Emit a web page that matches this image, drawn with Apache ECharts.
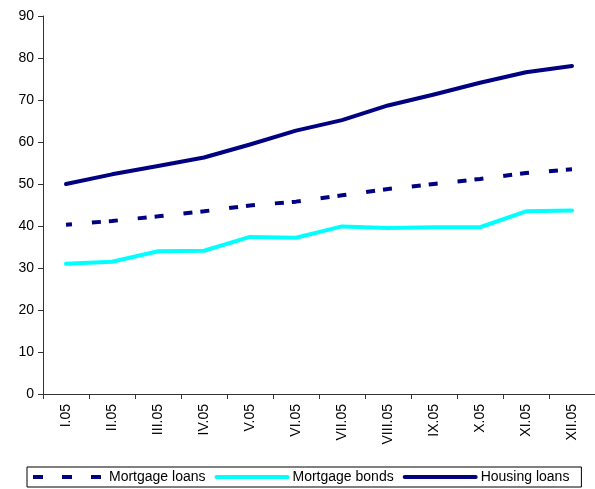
<!DOCTYPE html>
<html>
<head>
<meta charset="utf-8">
<script src="https://cdn.jsdelivr.net/npm/echarts@6/dist/echarts.min.js"></script>
<style>html,body{margin:0;padding:0;background:#fff;}#c{width:595px;height:489px;}</style>
</head>
<body>
<div id="c"></div>
<script>
var categories = ['I.05','II.05','III.05','IV.05','V.05','VI.05','VII.05','VIII.05','IX.05','X.05','XI.05','XII.05'];
var mortgageLoans = [40.3, 41.2, 42.3, 43.5, 44.9, 45.8, 47.3, 48.8, 50.0, 51.2, 52.6, 53.5];
var mortgageBonds = [31.0, 31.5, 34.0, 34.1, 37.4, 37.2, 39.9, 39.5, 39.7, 39.7, 43.5, 43.7];
var housingLoans = [50.0, 52.3, 54.3, 56.3, 59.4, 62.7, 65.2, 68.7, 71.3, 74.1, 76.6, 78.1];
var yTicks = {min: 0, max: 90, interval: 10};

var chart = echarts.init(document.getElementById('c'), null, {renderer: 'canvas'});
var font = 'Liberation Sans, Arial, sans-serif';
var noSym = {color: 'rgba(0,0,0,0)', borderWidth: 0, opacity: 0};
chart.setOption({
  animation: false,
  backgroundColor: '#fff',
  grid: {left: 43, right: 0, top: 16, bottom: 95, containLabel: false},
  legend: {
    left: 27, top: 467,
    itemWidth: 71, itemHeight: 14, itemGap: 9,
    padding: [3, 12, 3, 4],
    borderColor: '#000', borderWidth: 1,
    textStyle: {fontFamily: font, fontSize: 14, color: '#000'},
    itemStyle: noSym,
    lineStyle: {width: 4},
    data: [
      {name: 'Mortgage loans', itemStyle: noSym, lineStyle: {width: 4, type: [10, 19], dashOffset: 0, cap: 'butt'}},
      {name: 'Mortgage bonds', itemStyle: noSym, lineStyle: {width: 4, cap: 'round'}},
      {name: 'Housing loans', itemStyle: noSym, lineStyle: {width: 4, cap: 'round'}}
    ]
  },
  xAxis: {
    type: 'category',
    data: categories,
    boundaryGap: true,
    axisLine: {lineStyle: {color: '#333', width: 1}},
    axisTick: {show: true, length: 5, lineStyle: {color: '#333'}},
    axisLabel: {rotate: 90, margin: 10, fontFamily: font, fontSize: 14, color: '#000'},
    splitLine: {show: false}
  },
  yAxis: {
    type: 'value',
    min: yTicks.min, max: yTicks.max, interval: yTicks.interval,
    axisLine: {show: true, lineStyle: {color: '#333', width: 1}},
    axisTick: {show: true, length: 5, lineStyle: {color: '#333'}},
    axisLabel: {margin: 9, fontFamily: font, fontSize: 14, color: '#000'},
    splitLine: {show: false}
  },
  series: [
    {
      name: 'Mortgage loans', type: 'line', data: mortgageLoans,
      symbol: 'none', color: '#000080',
      lineStyle: {color: '#000080', width: 4, type: [9, 20, 9, 8], dashOffset: 3, cap: 'butt'}
    },
    {
      name: 'Mortgage bonds', type: 'line', data: mortgageBonds,
      symbol: 'none', color: '#00FFFF',
      lineStyle: {color: '#00FFFF', width: 4, cap: 'round', join: 'round'}
    },
    {
      name: 'Housing loans', type: 'line', data: housingLoans,
      symbol: 'none', color: '#000080',
      lineStyle: {color: '#000080', width: 4, cap: 'round', join: 'round'}
    }
  ]
});
</script>
</body>
</html>
